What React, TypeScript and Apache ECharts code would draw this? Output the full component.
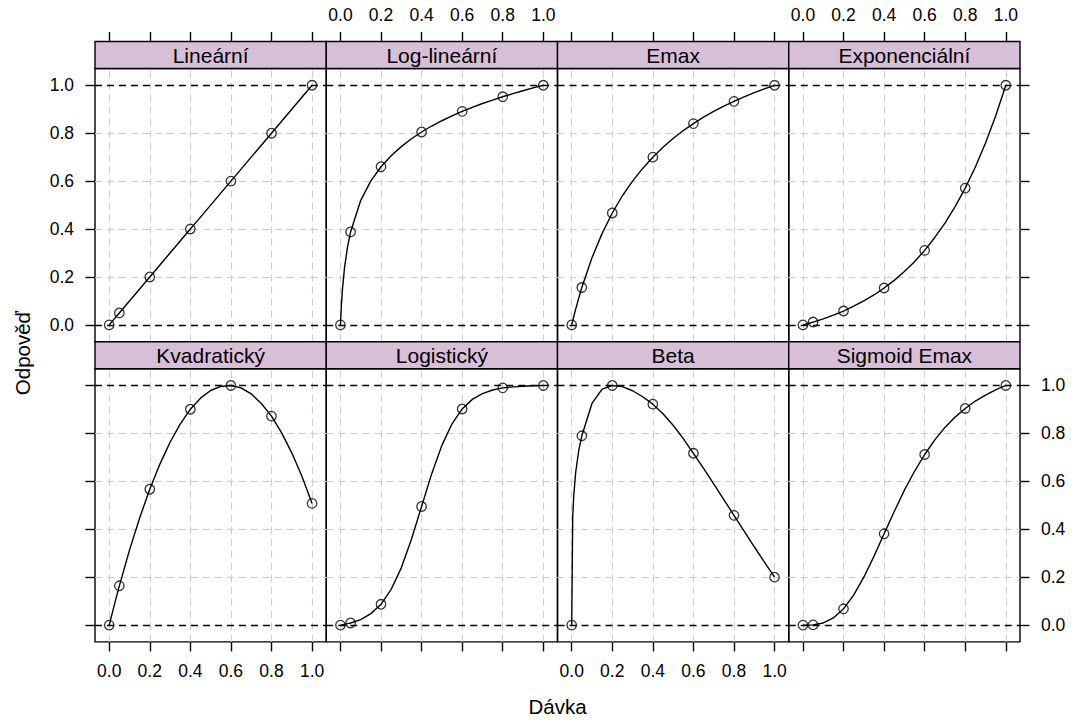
import React, { useEffect, useRef } from 'react';
import * as echarts from 'echarts';

const FONT = '"Liberation Sans", Arial, Helvetica, sans-serif';

const panelNames = ['Lineární', 'Log-lineární', 'Emax', 'Exponenciální', 'Kvadratický', 'Logistický', 'Beta', 'Sigmoid Emax'];
const tickValues = [0, 0.2, 0.4, 0.6, 0.8, 1.0];
const greyHLines = [0.2, 0.4, 0.6, 0.8];
const refHLines = [0, 1];

const doses = [0, 0.05, 0.2, 0.4, 0.6, 0.8, 1.0];
const linearPts = [0, 0.05, 0.2, 0.4, 0.6, 0.8, 1.0];
const logLinPts = [0, 0.388, 0.66, 0.805, 0.891, 0.952, 1.0];
const emaxPts = [0, 0.156, 0.467, 0.7, 0.84, 0.933, 1.0];
const expPts = [0, 0.012, 0.058, 0.154, 0.311, 0.571, 1.0];
const quadPts = [0, 0.164, 0.567, 0.901, 1.0, 0.872, 0.508];
const logisticPts = [0, 0.009, 0.087, 0.495, 0.902, 0.99, 1.0];
const betaPts = [0, 0.79, 1.0, 0.922, 0.717, 0.458, 0.2];
const sigEmaxPts = [0, 0.001, 0.068, 0.381, 0.712, 0.904, 1.0];

const curveDoses = [0, 0.005, 0.01, 0.02, 0.035, 0.05, 0.1, 0.15, 0.2, 0.25, 0.3, 0.35, 0.4, 0.45, 0.5, 0.55, 0.6, 0.65, 0.7, 0.75, 0.8, 0.85, 0.9, 0.95, 1.0];
const linearCurve = [0, 0.005, 0.01, 0.02, 0.035, 0.05, 0.1, 0.15, 0.2, 0.25, 0.3, 0.35, 0.4, 0.45, 0.5, 0.55, 0.6, 0.65, 0.7, 0.75, 0.8, 0.85, 0.9, 0.95, 1.0];
const logLinCurve = [0, 0.088, 0.15, 0.238, 0.326, 0.388, 0.52, 0.601, 0.66, 0.706, 0.744, 0.777, 0.805, 0.83, 0.852, 0.872, 0.891, 0.908, 0.924, 0.938, 0.952, 0.965, 0.977, 0.989, 1.0];
const emaxCurve = [0, 0.017, 0.034, 0.067, 0.113, 0.156, 0.28, 0.382, 0.467, 0.539, 0.6, 0.653, 0.7, 0.741, 0.778, 0.811, 0.84, 0.867, 0.891, 0.913, 0.933, 0.952, 0.969, 0.985, 1.0];
const expCurve = [0, 0.001, 0.002, 0.005, 0.008, 0.012, 0.025, 0.041, 0.058, 0.078, 0.1, 0.125, 0.154, 0.186, 0.223, 0.264, 0.311, 0.365, 0.425, 0.494, 0.571, 0.659, 0.759, 0.872, 1.0];
const quadCurve = [0, 0.017, 0.034, 0.067, 0.116, 0.164, 0.313, 0.447, 0.567, 0.672, 0.763, 0.839, 0.901, 0.947, 0.979, 0.996, 1.0, 0.99, 0.965, 0.925, 0.872, 0.802, 0.719, 0.621, 0.508];
const logisticCurve = [0, 0.001, 0.001, 0.003, 0.006, 0.009, 0.023, 0.048, 0.087, 0.149, 0.239, 0.358, 0.495, 0.632, 0.75, 0.84, 0.902, 0.942, 0.966, 0.981, 0.99, 0.994, 0.997, 0.999, 1.0];
const betaCurve = [0, 0.45, 0.54, 0.64, 0.73, 0.79, 0.925, 0.985, 1.0, 0.995, 0.978, 0.953, 0.922, 0.882, 0.834, 0.778, 0.717, 0.654, 0.589, 0.524, 0.458, 0.392, 0.327, 0.263, 0.2];
const sigEmaxCurve = [0, 0, 0, 0, 0, 0.001, 0.009, 0.03, 0.068, 0.125, 0.2, 0.287, 0.381, 0.474, 0.563, 0.642, 0.712, 0.773, 0.825, 0.868, 0.904, 0.935, 0.96, 0.982, 1.0];

const panelPoints = [linearPts, logLinPts, emaxPts, expPts, quadPts, logisticPts, betaPts, sigEmaxPts];
const panelCurves = [linearCurve, logLinCurve, emaxCurve, expCurve, quadCurve, logisticCurve, betaCurve, sigEmaxCurve];

export default function App() {
  const ref = useRef<HTMLDivElement>(null);

  useEffect(() => {
    const chart = echarts.init(ref.current!, null, { renderer: 'svg' });

    const colLeft = [95, 326.25, 557.5, 788.75];
    const colW = 231.25;
    const stripTop = [41.5, 341.7];
    const stripH = 27;
    const rowH = 273.2;
    const tickLen = 9.5;
    const tickFont = 17.5;
    const lw = 1.4;

    const grids: any[] = [];
    const xAxes: any[] = [];
    const yAxes: any[] = [];
    const series: any[] = [];
    const graphics: any[] = [];

    for (let i = 0; i < 8; i++) {
      const r = Math.floor(i / 4);
      const c = i % 4;
      const left = colLeft[c];
      const top = stripTop[r] + stripH;
      grids.push({
        left, top, width: colW, height: rowH,
        show: true, borderColor: '#000', borderWidth: lw, backgroundColor: 'transparent',
      });
      const showXLabel = (r === 0 && (c === 1 || c === 3)) || (r === 1 && (c === 0 || c === 2));
      xAxes.push({
        gridIndex: i, type: 'value', min: -0.07, max: 1.07,
        position: r === 0 ? 'top' : 'bottom',
        offset: r === 0 ? stripH : 0,
        axisLine: { show: true, onZero: false, lineStyle: { color: 'rgba(0,0,0,0)', width: 0 } },
        splitLine: { show: false },
        axisTick: { show: true, inside: false, length: tickLen, customValues: tickValues, lineStyle: { color: '#000', width: lw } },
        axisLabel: {
          show: showXLabel, customValues: tickValues, formatter: (v: number) => v.toFixed(1),
          margin: r === 0 ? 18 : 20, color: '#000', fontSize: tickFont, fontFamily: FONT,
        },
      });
      const edge = c === 0 || c === 3;
      const showYLabel = (r === 0 && c === 0) || (r === 1 && c === 3);
      yAxes.push({
        gridIndex: i, type: 'value', min: -0.07, max: 1.07,
        position: c === 3 ? 'right' : 'left',
        axisLine: { show: true, onZero: false, lineStyle: { color: 'rgba(0,0,0,0)', width: 0 } },
        splitLine: { show: false },
        axisTick: { show: edge, inside: false, length: tickLen, customValues: tickValues, lineStyle: { color: '#000', width: lw } },
        axisLabel: {
          show: showYLabel, customValues: tickValues, formatter: (v: number) => v.toFixed(1),
          margin: 21, color: '#000', fontSize: tickFont, fontFamily: FONT,
        },
      });

      const greyStyle = { color: '#cccccc', width: 1.1, type: [7, 5] };
      const refStyle = { color: '#000', width: lw, type: [7, 5] };
      const mlData: any[] = [];
      tickValues.forEach((v) => mlData.push({ xAxis: v, lineStyle: greyStyle }));
      greyHLines.forEach((v) => mlData.push({ yAxis: v, lineStyle: greyStyle }));
      refHLines.forEach((v) => mlData.push({ yAxis: v, lineStyle: refStyle }));

      const curve = panelCurves[i];
      const pts = panelPoints[i];
      series.push({
        type: 'line', xAxisIndex: i, yAxisIndex: i,
        data: curveDoses.map((d, k) => [d, curve[k]]),
        showSymbol: false, symbol: 'none', smooth: false,
        lineStyle: { color: '#000', width: lw }, z: 3, silent: true,
        markLine: {
          silent: true, symbol: ['none', 'none'], label: { show: false }, z: 1,
          animation: false, data: mlData,
        },
      });
      series.push({
        type: 'scatter', xAxisIndex: i, yAxisIndex: i,
        data: doses.map((d, k) => [d, pts[k]]),
        symbol: 'circle', symbolSize: 9.5, z: 4, silent: true,
        itemStyle: { color: 'rgba(0,0,0,0)', borderColor: '#000', borderWidth: 1.3 },
      });

      graphics.push({
        type: 'rect', z: 10,
        shape: { x: left, y: stripTop[r], width: colW, height: stripH },
        style: { fill: '#D8BFD8', stroke: '#000', lineWidth: lw },
      });
      graphics.push({
        type: 'text', z: 11, x: left + colW / 2, y: stripTop[r] + stripH / 2 + 0.5,
        style: { text: panelNames[i], fill: '#000', fontSize: 21, fontFamily: FONT, align: 'center', verticalAlign: 'middle' },
      });
    }

    graphics.push({
      type: 'text', z: 11, x: 557.5, y: 706,
      style: { text: 'Dávka', fill: '#000', fontSize: 20.5, fontFamily: FONT, align: 'center', verticalAlign: 'middle' },
    });
    graphics.push({
      type: 'text', z: 11, x: 22, y: 353, rotation: Math.PI / 2,
      style: { text: 'Odpověď', fill: '#000', fontSize: 20.5, fontFamily: FONT, align: 'center', verticalAlign: 'middle' },
    });

    chart.setOption({
      animation: false,
      backgroundColor: '#fff',
      grid: grids,
      xAxis: xAxes,
      yAxis: yAxes,
      series,
      graphic: { elements: graphics },
    });

    return () => chart.dispose();
  }, []);

  return <div ref={ref} style={{ position: 'fixed', left: 0, top: 0, width: 1076, height: 722 }} />;
}
